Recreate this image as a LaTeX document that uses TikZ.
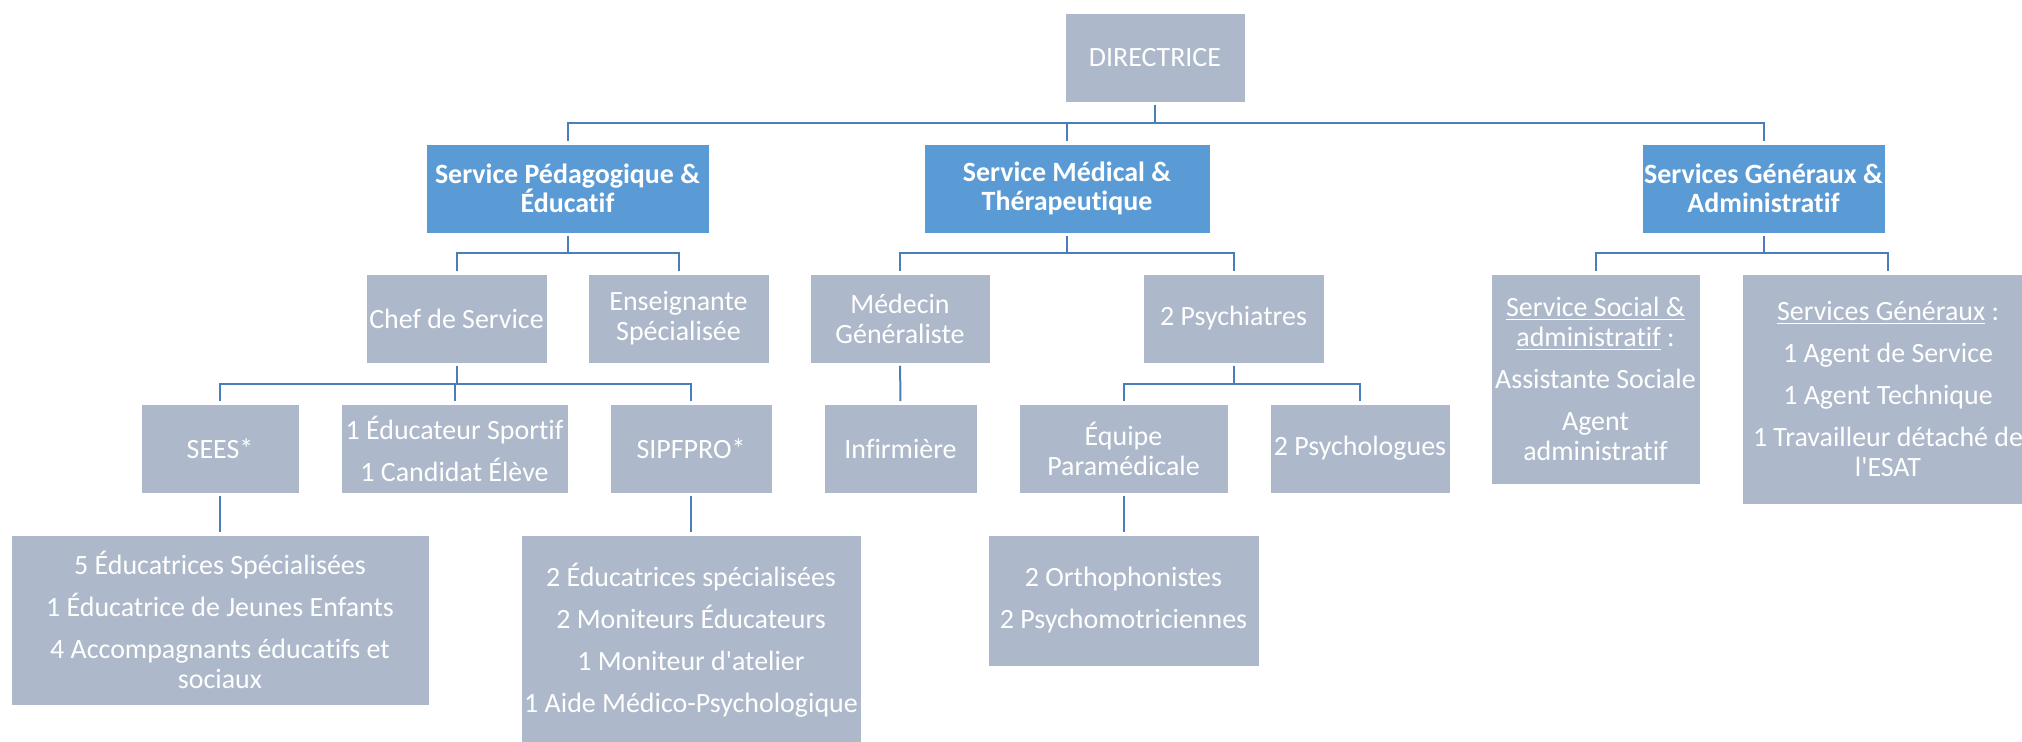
\documentclass[tikz,border=0pt]{standalone}
\usepackage{fontspec}
\setmainfont{Carlito}[Ligatures={NoCommon}]
\definecolor{boxgray}{HTML}{ADB9CA}
\definecolor{headblue}{HTML}{5B9BD5}
\definecolor{linkblue}{HTML}{4A7EBB}

\begin{document}
\begin{tikzpicture}[x=0.02cm,y=-0.02cm,
                box/.style={fill=boxgray,draw=white,line width=0.3pt,text=white,inner sep=0pt,align=center,font=\fontsize{15.9}{17.1}\selectfont},
                head/.style={box,fill=headblue,font=\fontsize{15.9}{16.5}\selectfont\bfseries},
                link/.style={draw=linkblue,line width=0.04cm,shorten <=0.05cm,shorten >=0.05cm}]
                \useasboundingbox (0,0) rectangle (2022,742);
                \node[box,minimum width=3.6cm,minimum height=1.78cm](Dir)at(1155, 57.5){DIRECTRICE};
                \node[head,minimum width=5.66cm,minimum height=1.78cm](Ped)at(567.5, 188.5){Service Pédagogique \&\\Éducatif};
                \node[head,minimum width=5.72cm,minimum height=1.78cm](Med)at(1067, 188.5){Service Médical \&\\Thérapeutique};
                \node[head,minimum width=4.86cm,minimum height=1.78cm](Gen)at(1763.5, 188.5){Services Généraux \&\\Administratif};
                \node[box,minimum width=3.62cm,minimum height=1.78cm](Chef)at(456.5, 318.5){Chef de Service};
                \node[box,minimum width=3.62cm,minimum height=1.78cm](Ens)at(678.5, 318.5){Enseignante\\Spécialisée};
                \node[box,minimum width=3.6cm,minimum height=1.78cm](Medecin)at(900, 318.5){Médecin\\Généraliste};
                \node[box,minimum width=3.62cm,minimum height=1.78cm](Psychiatres)at(1233.5, 318.5){2 Psychiatres};
                \node[box,minimum width=4.18cm,minimum height=4.2cm](Social)at(1595.5, 379){\underline{Service Social \&}\\\underline{administratif} :\\[6.8pt]Assistante Sociale\\[6.8pt]Agent\\administratif};
                \node[box,minimum width=5.84cm,minimum height=4.6cm](Agents)at(1888, 389){\underline{Services Généraux} :\\[6.8pt]1 Agent de Service\\[6.8pt]1 Agent Technique\\[6.8pt]1 Travailleur détaché de\\l\textquotesingle ESAT};
                \node[box,minimum width=3.16cm,minimum height=1.78cm](Sees)at(220, 448.5){SEES*};
                \node[box,minimum width=4.54cm,minimum height=1.78cm](Sport)at(454.5, 448.5){1 Éducateur Sportif\\[6.8pt]1 Candidat Élève};
                \node[box,minimum width=3.24cm,minimum height=1.78cm](Sipf)at(691, 448.5){SIPFPRO*};
                \node[box,minimum width=3.06cm,minimum height=1.78cm](Infirm)at(900.5, 448.5){Infirmière};
                \node[box,minimum width=4.18cm,minimum height=1.78cm](Equipe)at(1123.5, 448.5){Équipe\\Paramédicale};
                \node[box,minimum width=3.6cm,minimum height=1.78cm](Psycho)at(1360, 448.5){2 Psychologues};
                \node[box,minimum width=8.36cm,minimum height=3.4cm](SeesTeam)at(220, 620){5 Éducatrices Spécialisées\\[6.8pt]1 Éducatrice de Jeunes Enfants\\[6.8pt]4 Accompagnants éducatifs et\\sociaux};
                \node[box,minimum width=6.8cm,minimum height=4.22cm](SipfTeam)at(691, 640.5){2 Éducatrices spécialisées\\[6.8pt]2 Moniteurs Éducateurs\\[6.8pt]1 Moniteur d\textquotesingle atelier\\[6.8pt]1 Aide Médico-Psychologique};
                \node[box,minimum width=5.42cm,minimum height=2.62cm](Ortho)at(1123.5, 600.5){2 Orthophonistes\\[6.8pt]2 Psychomotriciennes};
                \draw[link](Dir.south) -- ++(0, 21) -| (Ped.north);
                \draw[link](Dir.south) -- ++(0, 21) -| (Med.north);
                \draw[link](Dir.south) -- ++(0, 21) -| (Gen.north);
                \draw[link](Ped.south) -- ++(0, 20) -| (Chef.north);
                \draw[link](Ped.south) -- ++(0, 20) -| (Ens.north);
                \draw[link](Med.south) -- ++(0, 20) -| (Medecin.north);
                \draw[link](Med.south) -- ++(0, 20) -| (Psychiatres.north);
                \draw[link](Gen.south) -- ++(0, 20) -| (Social.north);
                \draw[link](Gen.south) -- ++(0, 20) -| (Agents.north);
                \draw[link](Chef.south) -- ++(0, 21) -| (Sees.north);
                \draw[link](Chef.south) -- ++(0, 21) -| (Sport.north);
                \draw[link](Chef.south) -- ++(0, 21) -| (Sipf.north);
                \draw[link](Medecin) -- (Infirm);
                \draw[link](Psychiatres.south) -- ++(0, 21) -| (Equipe.north);
                \draw[link](Psychiatres.south) -- ++(0, 21) -| (Psycho.north);
                \draw[link](Sees) -- (SeesTeam);
                \draw[link](Sipf) -- (SipfTeam);
                \draw[link](Equipe) -- (Ortho);
            \end{tikzpicture}
\end{document}
